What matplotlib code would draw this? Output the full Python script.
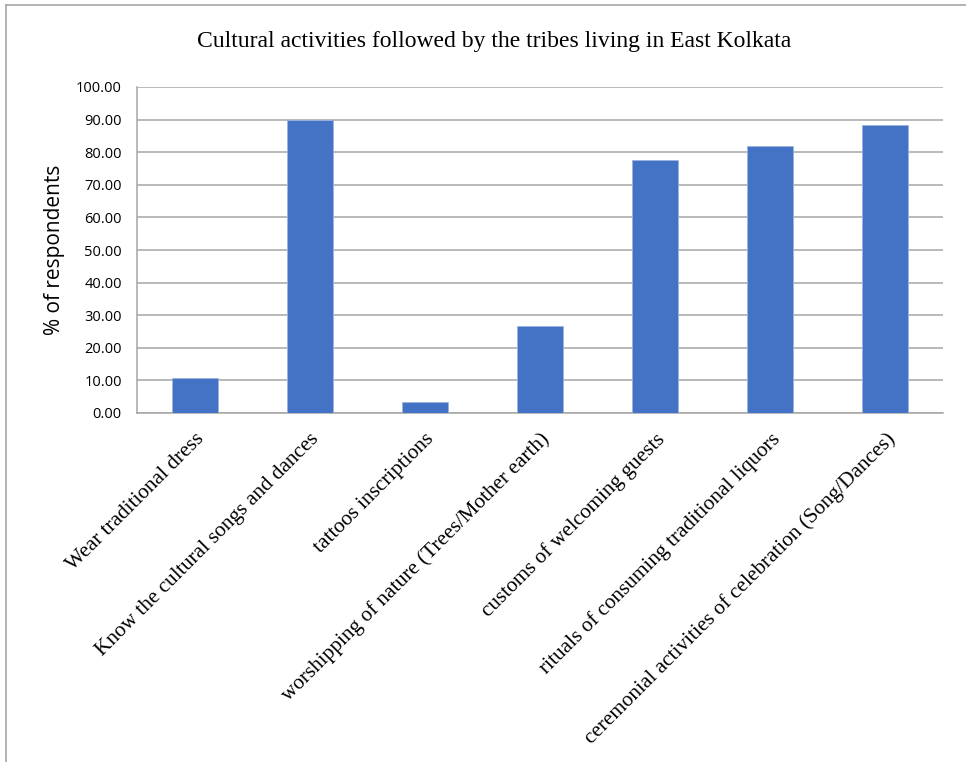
import matplotlib
matplotlib.use('Agg')
import matplotlib.pyplot as plt
from matplotlib.lines import Line2D

# survey results, share of respondents per activity
activities = [
    'Wear traditional dress',
    'Know the cultural songs and dances',
    'tattoos inscriptions',
    'worshipping of nature (Trees/Mother earth)',
    'customs of welcoming guests',
    'rituals of consuming traditional liquors',
    'ceremonial activities of celebration (Song/Dances)',
]
percent = [10.7, 90.0, 3.4, 26.6, 77.5, 81.8, 88.4]
y_ticks = [0, 10, 20, 30, 40, 50, 60, 70, 80, 90, 100]

title = 'Cultural activities followed by the tribes living in East Kolkata'

W, H = 966, 762
fig = plt.figure(figsize=(W / 100, H / 100), dpi=100)
ax = fig.add_axes([137 / W, 1 - 413 / H, (943 - 137) / W, (413 - 87) / H])

x = list(range(len(activities)))
ax.bar(x, percent, width=0.4, color='#4472C4', edgecolor='#9db3e0',
       linewidth=0.6, zorder=3)

ax.set_xlim(-0.5, len(activities) - 0.5)
ax.set_ylim(0, 100)
ax.set_yticks(y_ticks)
ax.set_yticklabels([f'{v:.2f}' for v in y_ticks], fontfamily='Open Sans',
                   fontsize=10.5)
ax.yaxis.grid(True, color='#a6a6a6', linewidth=1.1, zorder=0)
ax.tick_params(axis='y', length=0, pad=11)
ax.tick_params(axis='x', length=0, pad=12)

ax.set_xticks(x)
ax.set_xticklabels(activities, rotation=45, ha='right', va='top',
                   rotation_mode='anchor', fontfamily='Liberation Serif',
                   fontsize=15.3)

for side in ['top', 'right']:
    ax.spines[side].set_visible(False)
for side in ['left', 'bottom']:
    ax.spines[side].set_color('#a6a6a6')
    ax.spines[side].set_linewidth(1.1)

ax.set_ylabel('% of respondents', fontfamily='Open Sans', fontsize=15,
              labelpad=8)

fig.text(494 / W, 1 - 42 / H, title, ha='center', va='center',
         fontfamily='Liberation Serif', fontsize=17)

# chart frame edges (top and left only)
fig.add_artist(Line2D([6 / W, 1], [1 - 5 / H, 1 - 5 / H], color='#a6a6a6',
                      linewidth=1.2, transform=fig.transFigure))
fig.add_artist(Line2D([6 / W, 6 / W], [0, 1 - 5 / H], color='#a6a6a6',
                      linewidth=1.2, transform=fig.transFigure))

fig.savefig('out.png', dpi=100)
